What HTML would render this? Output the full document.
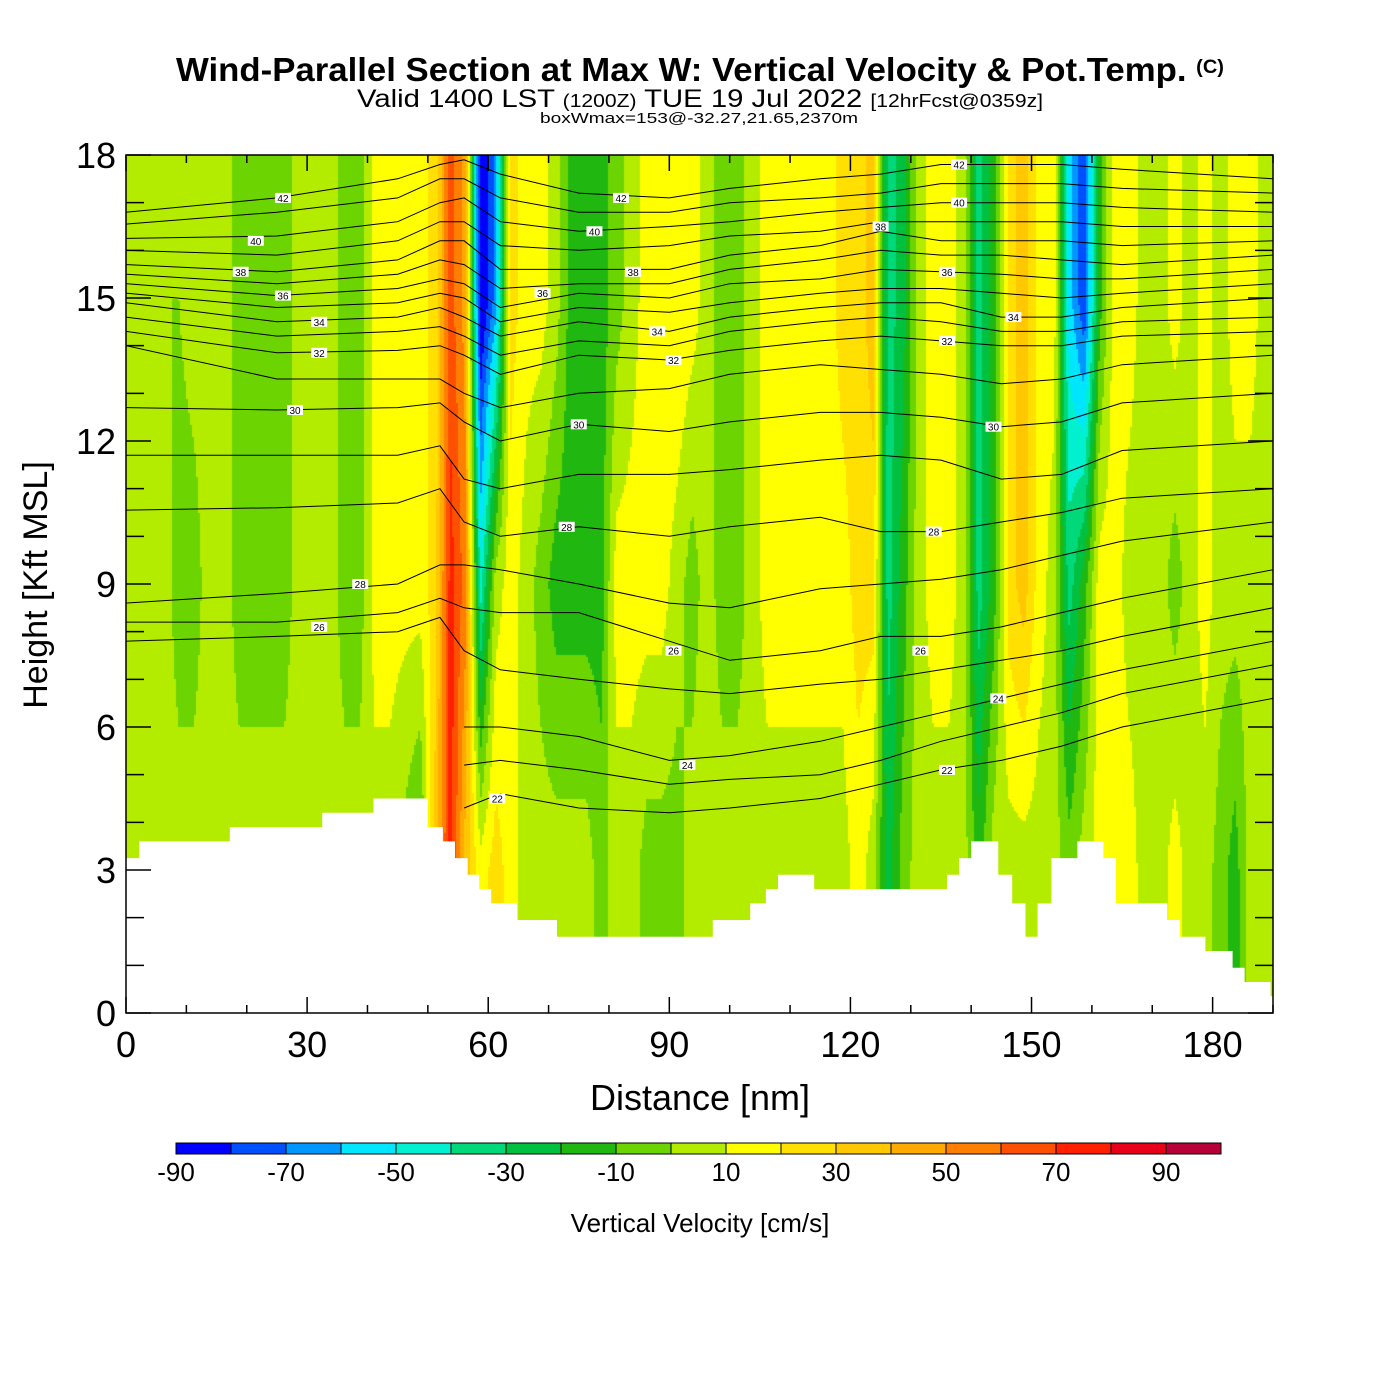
<!DOCTYPE html>
<html><head><meta charset="utf-8">
<style>
html,body{margin:0;padding:0;background:#fff;}
#wrap{position:relative;width:1400px;height:1400px;overflow:hidden;background:#fff;font-family:"Liberation Sans",sans-serif;}
#field{position:absolute;left:126px;top:155px;}
#ov{position:absolute;left:0;top:0;}
</style></head>
<body>
<div id="wrap">
<canvas id="field" width="1147" height="858"></canvas>
<svg id="ov" width="1400" height="1400" xmlns="http://www.w3.org/2000/svg">
  <text x="176" y="81" textLength="1048" lengthAdjust="spacingAndGlyphs" font-size="33" font-weight="bold" font-family="Liberation Sans, sans-serif">Wind-Parallel Section at Max W: Vertical Velocity &amp; Pot.Temp. <tspan font-size="19" dy="-8">(C)</tspan></text>
  <text x="357" y="107" textLength="686" lengthAdjust="spacingAndGlyphs" font-size="25" font-family="Liberation Sans, sans-serif">Valid 1400 LST <tspan font-size="18">(1200Z)</tspan> TUE 19 Jul 2022 <tspan font-size="18">[12hrFcst@0359z]</tspan></text>
  <text x="540" y="123" textLength="318" lengthAdjust="spacingAndGlyphs" font-size="15" font-family="Liberation Sans, sans-serif">boxWmax=153@-32.27,21.65,2370m</text>
  <g id="contours"></g>
  <g id="labels"></g>
  <path id="terrain" fill="#fff"></path>
  <rect x="126" y="155" width="1147" height="858" fill="none" stroke="#000" stroke-width="1.5"></rect>
  <g id="axes"></g>
  <text x="700" y="1110" text-anchor="middle" font-size="36" font-family="Liberation Sans, sans-serif">Distance [nm]</text>
  <text transform="translate(47,585) rotate(-90)" text-anchor="middle" font-size="34" font-family="Liberation Sans, sans-serif">Height [Kft MSL]</text>
  <g id="cbar"></g>
  <text x="700" y="1232" text-anchor="middle" font-size="26" font-family="Liberation Sans, sans-serif">Vertical Velocity [cm/s]</text>
</svg>
</div>
<script>
// ---- data ----
const cbarColors = ["#0000ff","#0050ff","#0096ff","#00e6ff","#00f0d0","#00d87a","#00c040","#20b810","#6cd400","#b4ec00","#ffff00","#ffe000","#ffc800","#ffaa00","#ff8000","#ff5000","#ff2000","#e80018","#b80038"];
const cbarTicks = [-90,-70,-50,-30,-10,10,30,50,70,90];
const xTicks = [0,30,60,90,120,150,180];
const yTicks = [0,3,6,9,12,15,18];
// vertical velocity by 2.5-nm column, three height bands
const wHigh = [5,5,0,0,5,5,5,-5,-5,-5,-5,5,5,5,-5,-5,15,15,15,15,25,65,45,-95,-65,25,15,15,5,-15,-15,-15,-5,5,15,15,20,15,5,-5,-5,5,15,15,15,15,15,25,25,35,-35,-25,5,15,15,5,-35,-15,25,35,15,15,-55,-80,-15,15,15,5,5,15,5,15,5,15,15,5];
const wMid = [5,5,5,-5,-5,5,5,-5,-5,-5,-5,5,5,5,-5,-5,15,15,15,15,25,75,55,-45,5,15,5,-5,-15,-15,-15,-15,15,15,15,15,5,-5,5,-5,-5,5,15,15,15,15,15,15,25,25,-35,-15,5,15,15,5,-35,-15,25,35,15,5,-35,-15,15,15,5,5,5,-5,5,15,5,5,5,5];
const wLow = [5,5,5,5,5,5,5,5,5,5,5,5,5,5,5,5,5,5,-5,-15,35,75,35,15,25,15,5,5,5,5,5,-5,5,5,-5,-5,-5,5,5,5,5,5,5,5,5,5,5,5,15,5,-25,-5,5,5,5,5,-15,5,5,5,5,5,-5,5,15,15,15,5,5,15,5,5,-5,-15,5,5];
// terrain steps: start distance (nm), height (kft)
const terrX = [0,2.2,17.2,32.5,41,50,52.5,54.5,56.6,58.5,60.5,64.8,71.4,97.2,103.4,106,108,114,136,138,140,144.5,146.8,149,151,153.3,157.6,161.9,164,172.5,174.6,178.8,183.3,185.3,189.6];
const terrH = [3.25,3.6,3.9,4.2,4.5,3.9,3.6,3.25,2.9,2.6,2.3,1.95,1.6,1.95,2.3,2.6,2.9,2.6,2.9,3.25,3.6,2.9,2.3,1.6,2.3,3.25,3.6,3.25,2.3,1.95,1.6,1.3,0.95,0.65,0.35];
// potential temperature contours: heights (kft) at distance nodes
const thetaNodes = [0,25,45,52,56,62,75,90,100,115,125,135,145,155,165,190];
const thetaLevels = [22,23,24,25,26,27,28,29,30,31,32,33,34,35,36,37,38,39,40,41,42];
const thetaH = [
 [null,null,null,null,4.3,4.6,4.3,4.2,4.3,4.5,4.8,5.1,5.3,5.6,6.0,6.6],
 [null,null,null,null,5.2,5.3,5.1,4.8,4.9,5.0,5.3,5.7,6.0,6.3,6.7,7.3],
 [null,null,null,null,6.0,6.0,5.8,5.3,5.4,5.7,6.0,6.3,6.6,6.9,7.2,7.8],
 [7.8,7.9,8.0,8.3,7.6,7.2,7.0,6.8,6.7,6.9,7.0,7.2,7.4,7.6,7.9,8.5],
 [8.2,8.2,8.4,8.7,8.5,8.4,8.4,7.8,7.4,7.6,7.9,7.9,8.1,8.4,8.7,9.3],
 [8.6,8.8,9.0,9.4,9.4,9.3,9.0,8.6,8.5,8.9,9.0,9.1,9.3,9.6,9.9,10.3],
 [10.55,10.6,10.7,11.0,10.3,10.0,10.2,10.0,10.2,10.4,10.1,10.1,10.3,10.5,10.8,11.0],
 [11.7,11.7,11.7,11.9,11.2,11.0,11.3,11.3,11.4,11.6,11.7,11.6,11.2,11.3,11.8,12.0],
 [12.7,12.65,12.7,12.8,12.4,12.0,12.35,12.2,12.4,12.6,12.6,12.5,12.3,12.4,12.8,13.0],
 [14.0,13.3,13.3,13.3,13.0,12.7,13.0,13.1,13.4,13.6,13.5,13.4,13.2,13.3,13.6,13.8],
 [14.3,13.85,13.9,14.0,13.8,13.4,13.8,13.7,13.9,14.1,14.2,14.1,14.0,14.0,14.2,14.3],
 [14.6,14.2,14.3,14.4,14.2,13.8,14.1,14.0,14.3,14.5,14.6,14.5,14.3,14.3,14.5,14.6],
 [14.9,14.5,14.6,14.8,14.6,14.2,14.5,14.3,14.6,14.8,14.9,14.9,14.6,14.6,14.8,15.0],
 [15.1,14.8,14.9,15.1,15.0,14.5,14.8,14.7,14.9,15.1,15.2,15.2,15.1,15.0,15.1,15.3],
 [15.3,15.05,15.2,15.4,15.3,14.8,15.1,15.0,15.3,15.4,15.6,15.55,15.5,15.4,15.4,15.6],
 [15.5,15.3,15.5,15.8,15.7,15.2,15.3,15.3,15.6,15.8,16.0,15.9,15.9,15.8,15.7,15.9],
 [15.7,15.55,15.8,16.2,16.2,15.6,15.6,15.6,15.9,16.1,16.4,16.2,16.2,16.2,16.1,16.2],
 [16.0,15.9,16.2,16.6,16.6,16.1,16.0,16.1,16.3,16.4,16.6,16.6,16.6,16.6,16.5,16.5],
 [16.25,16.3,16.6,17.0,17.1,16.6,16.4,16.5,16.6,16.8,16.9,17.0,17.0,17.0,16.9,16.8],
 [16.55,16.8,17.1,17.5,17.5,17.1,16.8,16.8,17.0,17.1,17.2,17.4,17.4,17.4,17.3,17.2],
 [16.8,17.1,17.5,17.8,17.9,17.6,17.2,17.1,17.3,17.5,17.6,17.8,17.8,17.8,17.7,17.5]
];
const labelText = ["22","24","22","24","26","26","28","28","26","28","30","30","30","32","32","32","34","34","34","36","36","36","38","38","38","40","40","40","42","42","42"];
const labelX = [61.5,93,136,144.5,90.7,131.6,73,133.8,32,38.8,75,143.7,28,90.7,136,32,88,147,32,69,136,26,84,125,19,77.6,138,21.5,82,138,26];
const labelY = [4.5,5.2,5.1,6.6,7.6,7.6,10.2,10.1,8.1,9.0,12.35,12.3,12.65,13.7,14.1,13.85,14.3,14.6,14.5,15.1,15.55,15.05,15.55,16.5,15.55,16.4,17.0,16.2,17.1,17.8,17.1];

// ---- axes ----
const X0=126, X1=1273, Y0=1013, Y1=155, XMAX=190, YMAX=18;
const sx = d => X0 + d*(X1-X0)/XMAX;
const sy = h => Y0 - h*(Y0-Y1)/YMAX;
const NS="http://www.w3.org/2000/svg";
function mk(tag, attrs, parent){const e=document.createElementNS(NS,tag);for(const k in attrs)e.setAttribute(k,attrs[k]);parent.appendChild(e);return e;}

// ---- field ----
const colW = 2.5;
function colVal(arr, d){
  let f = d/colW - 0.5; let i=Math.floor(f); let t=f-i;
  const a=arr[Math.max(0,Math.min(arr.length-1,i))], b=arr[Math.max(0,Math.min(arr.length-1,i+1))];
  return a+(b-a)*t;
}
function wAt(d,h){
  const lo=colVal(wLow,d), mi=colVal(wMid,d), hi=colVal(wHigh,d);
  if(h<=3) return lo;
  if(h<=9) return lo+(mi-lo)*(h-3)/6;
  if(h<=15) return mi+(hi-mi)*(h-9)/6;
  return hi;
}
const cv=document.getElementById('field'); const ctx=cv.getContext('2d');
const B=2;
for(let px=0;px<1147;px+=B){
  const d=(px+B/2)*XMAX/(X1-X0);
  for(let py=0;py<858;py+=B){
    const h=YMAX-(py+B/2)*YMAX/(Y0-Y1);
    const v=wAt(d,h);
    let k=Math.floor((v+90)/10); k=Math.max(0,Math.min(cbarColors.length-1,k));
    ctx.fillStyle=cbarColors[k]; ctx.fillRect(px,py,B,B);
  }
}

// ---- contours ----
const cg=document.getElementById('contours');
thetaLevels.forEach((lev,li)=>{
  let seg=[];
  const flush=()=>{ if(seg.length>1){
    const p=mk('polyline',{points:seg.join(' '),fill:'none',stroke:'#000','stroke-width':'1'},cg);
    
    
  } seg=[]; };
  thetaNodes.forEach((d,i)=>{
    const h=thetaH[li][i];
    if(h===null){flush();return;}
    seg.push(sx(d).toFixed(1)+','+sy(h).toFixed(1));
  });
  flush();
});
const lg=document.getElementById('labels');
labelText.forEach((t,i)=>{
  const x=sx(labelX[i]), y=sy(labelY[i]);
  const r=mk('rect',{x:x-8,y:y-5,width:16,height:10,fill:'#fff'},lg);
  
  
  const tx=mk('text',{x:x,y:y+4,'text-anchor':'middle','font-size':'10','font-family':'Liberation Sans, sans-serif'},lg);
  tx.textContent=t;
  
  
});

// ---- terrain ----
let dpath='M'+sx(0)+','+sy(0);
terrX.forEach((d,i)=>{
  const xe = i<terrX.length-1 ? terrX[i+1] : XMAX;
  dpath+=' L'+sx(d).toFixed(1)+','+sy(terrH[i]).toFixed(1)+' L'+sx(xe).toFixed(1)+','+sy(terrH[i]).toFixed(1);
});
dpath+=' L'+sx(XMAX)+','+sy(0)+' Z';
document.getElementById('terrain').setAttribute('d',dpath);

// ---- ticks ----
const ag=document.getElementById('axes');
for(let d=0; d<=XMAX; d+=10){
  const major = d%30===0; const L = major?16:8;
  const a=mk('line',{x1:sx(d),x2:sx(d),y1:Y0,y2:Y0-L,stroke:'#000','stroke-width':'1.5'},ag);
   
  const b=mk('line',{x1:sx(d),x2:sx(d),y1:Y1,y2:Y1+L,stroke:'#000','stroke-width':'1.5'},ag);
   
}
for(let h=0; h<=YMAX; h+=1){
  const major = h%3===0; const L = major?25:18;
  const a=mk('line',{x1:X0,x2:X0+L,y1:sy(h),y2:sy(h),stroke:'#000','stroke-width':'1.5'},ag);
   
  const b=mk('line',{x1:X1,x2:X1-L,y1:sy(h),y2:sy(h),stroke:'#000','stroke-width':'1.5'},ag);
   
}
xTicks.forEach(d=>{
  const t=mk('text',{x:sx(d),y:1057,'text-anchor':'middle','font-size':'36','font-family':'Liberation Sans, sans-serif'},ag);
  t.textContent=d;
   
});
yTicks.forEach(h=>{
  const t=mk('text',{x:116,y:sy(h)+13,'text-anchor':'end','font-size':'36','font-family':'Liberation Sans, sans-serif'},ag);
  t.textContent=h;
   
});

// ---- colorbar ----
const cb=document.getElementById('cbar');
const CB0=176, CBW=55, CBY=1143, CBH=11;
cbarColors.forEach((c,i)=>{
  const r=mk('rect',{x:CB0+i*CBW,y:CBY,width:CBW,height:CBH,fill:c,stroke:'#000','stroke-width':'1'},cb);
   
});
cbarTicks.forEach(v=>{
  const x=CB0+(v+90)/10*CBW;
  const t=mk('text',{x:x,y:1181,'text-anchor':'middle','font-size':'26','font-family':'Liberation Sans, sans-serif'},cb);
  t.textContent=v;
   
});
</script>
</body></html>
